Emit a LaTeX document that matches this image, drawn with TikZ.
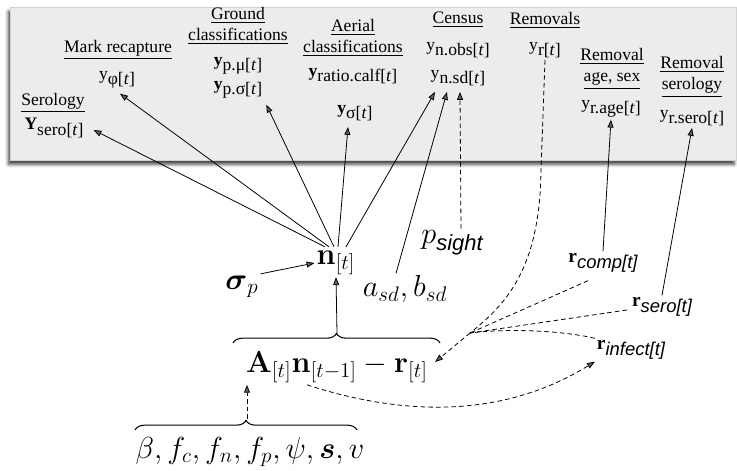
\documentclass[tikz,border=0pt]{standalone}
\usepackage{amsmath, amssymb}
\usepackage[no-math]{fontspec}
\setmainfont{Liberation Serif}
\newfontfamily\subsans{Liberation Sans}
\usetikzlibrary{arrows.meta, positioning, calc, decorations.pathreplacing, shadows.blur}

\newcommand{\lsub}[1]{\raisebox{-3pt}{#1}}
\newcommand{\rsub}[1]{\raisebox{-3.5pt}{\subsans\itshape\fontsize{10.5}{12}\selectfont #1}}

\begin{document}
\begin{tikzpicture}[
  x=0.02cm, y=-0.02cm,
  head/.style={align=center, inner sep=1pt, font=\fontsize{10}{12}\selectfont},
  obs/.style={inner sep=1pt, font=\fontsize{10}{12}\selectfont},
  mth/.style={inner sep=1pt, font=\fontsize{17.5}{20}\selectfont},
  rem/.style={inner sep=1pt, font=\fontsize{11}{13}\selectfont},
  arrow/.style={-{Triangle[length=4.5pt, width=3.4pt]}, line width=0.45pt},
  dasharrow/.style={arrow, dash pattern=on 2.6pt off 1.8pt},
  dline/.style={line width=0.45pt, dash pattern=on 2.6pt off 1.8pt},
  brace/.style={decorate, decoration={brace, amplitude=5.5pt}, semithick},
  panel/.style={fill=gray!15, draw=gray!35, line width=0.4pt,
    blur shadow={shadow xshift=-1pt, shadow yshift=-2.5pt, shadow blur radius=1.8pt, shadow opacity=75}}
]
\useasboundingbox (0,0) rectangle (737,470);

% data panel
\path[panel] (10,7) rectangle (736,160);

% headings and data
\node[head] (lbsero) at (53,103) {\underline{Serology}};
\node[obs] (ysero) at (54,128) {\textbf{Y}\lsub{sero[\textit{t}]}};
\node[head] (lbmark) at (118,50) {\underline{Mark recapture}};
\node[obs] (yphi) at (117,80) {y\lsub{φ[\textit{t}]}};
\node[head] (lbground) at (238,26) {\underline{Ground}\\\underline{classifications}};
\node[obs] (ypmu) at (238,66) {\textbf{y}\lsub{p.μ[\textit{t}]}};
\node[obs] (ypsig) at (238,90) {\textbf{y}\lsub{p.σ[\textit{t}]}};
\node[head] (lbaerial) at (353,38) {\underline{Aerial}\\\underline{classifications}};
\node[obs] (yratio) at (353,76) {\textbf{y}\lsub{ratio.calf[\textit{t}]}};
\node[obs] (ysig) at (355,113) {\textbf{y}\lsub{σ[\textit{t}]}};
\node[head] (lbcensus) at (458,20) {\underline{Census}};
\node[obs] (ynobs) at (458,50) {y\lsub{n.obs[\textit{t}]}};
\node[obs] (ynsd) at (458,78) {y\lsub{n.sd[\textit{t}]}};
\node[head] (lbremov) at (545,20) {\underline{Removals}};
\node[obs] (yr) at (545,50) {y\lsub{r[\textit{t}]}};
\node[head] (lbrage) at (612,69) {\underline{Removal}\\\underline{age, sex}};
\node[obs] (yrage) at (611,109) {y\lsub{r.age[\textit{t}]}};
\node[head] (lbrsero) at (692,77) {\underline{Removal}\\\underline{serology}};
\node[obs] (yrsero) at (692,118) {y\lsub{r.sero[\textit{t}]}};

% process model
\node[mth] (n) at (336,263) {$\mathbf{n}_{[t]}$};
\node[mth] (sigp) at (242,287) {$\boldsymbol{\sigma}_p$};
\node[mth] (absd) at (405,289) {$a_{sd}, b_{sd}$};
\node[mth] (psight) at (452,243) {$p$\raisebox{-4pt}{\subsans\itshape\fontsize{12.5}{14}\selectfont sight}};
\node[rem] (rcomp) at (603,263) {\textbf{r}\rsub{comp[t]}};
\node[rem] (rsero) at (662,307) {\textbf{r}\rsub{sero[t]}};
\node[rem] (rinf) at (631,350) {\textbf{r}\rsub{infect[t]}};
\node[mth] (expr) at (337,367) {$\mathbf{A}_{[t]}\mathbf{n}_{[t-1]}-\mathbf{r}_{[t]}$};
\node[mth] (params) at (250,452) {$\beta, f_c, f_n, f_p, \psi, \boldsymbol{s}, v$};

\draw[brace] (233,343) -- (440,343);
\draw[brace] (135,430) -- (357,430);
\coordinate (btop) at (337,333);
\coordinate (bbot) at (247,419);
\coordinate (jn) at (470,333);

% observation links
\draw[arrow] ($(n.north)+(-11,-2)$) -- ($(ysero.east)+(8,2)$);
\draw[arrow] ($(n.north)+(-7,-2)$) -- ($(yphi.south)+(3,3)$);
\draw[arrow] ($(n.north)+(-2,-2)$) -- ($(ypsig.south east)+(2,4)$);
\draw[arrow] ($(n.north)+(2,-2)$) -- ($(ysig.south)+(-7,4)$);
\draw[arrow] ($(n.north)+(10,-2)$) -- ($(ynsd.south)+(-23,4)$);
\draw[arrow] ($(absd.north)+(-9,0)$) -- ($(ynsd.south)+(-11,4)$);
\draw[dasharrow] ($(psight.north)+(9,0)$) -- ($(ynsd.south)+(2,4)$);
\draw[arrow] (sigp.north east) -- (n.west);
\draw[arrow] (rcomp.north) -- (yrage.south);
\draw[arrow] (rsero.north) -- (yrsero.south);

% process links
\draw[arrow] (btop) -- (n.south);
\draw[dasharrow] (bbot) -- (bbot |- expr.south);
\draw[dline] (yr.south) -- (541,170) .. controls (540,270) and (505,305) .. (jn);
\draw[dline] ($(rcomp.south)+(-15,6)$) -- (jn);
\draw[dline] ($(rsero.west)+(-3,3)$) -- (jn);
\draw[dline] (rinf.north west) .. controls (565,331) and (510,328) .. (jn);
\draw[dasharrow] (jn) -- ($(expr.east)+(5,-5)$);
\draw[dasharrow] ($(expr.south)+(-30,0)$) .. controls (400,415) and (500,420) .. (rinf.south west);
\end{tikzpicture}
\end{document}
